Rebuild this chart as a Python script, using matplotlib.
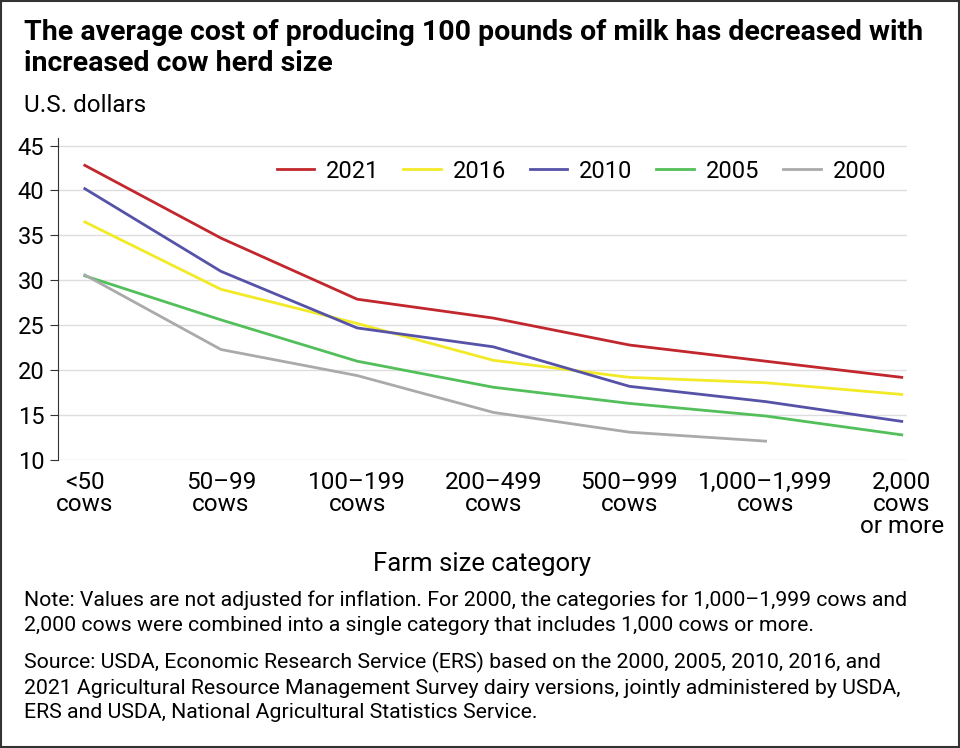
import numpy as np
import matplotlib.pyplot as plt

plt.rcParams['font.family'] = ['Roboto', 'DejaVu Sans']

categories = ['<50\ncows', '50–99\ncows', '100–199\ncows', '200–499\ncows',
              '500–999\ncows', '1,000–1,999\ncows', '2,000\ncows\nor more']
years = ['2021', '2016', '2010', '2005', '2000']
colors = ['#c1272d', '#f2ea27', '#5552a8', '#52bf5a', '#aaaaaa']
v2021 = [42.8, 34.7, 27.9, 25.8, 22.8, 21.0, 19.2]
v2016 = [36.5, 29.0, 25.2, 21.1, 19.2, 18.6, 17.3]
v2010 = [40.2, 31.0, 24.7, 22.6, 18.2, 16.5, 14.3]
v2005 = [30.5, 25.6, 21.0, 18.1, 16.3, 14.9, 12.8]
v2000 = [30.6, 22.3, 19.4, 15.3, 13.1, 12.1]
series = [v2021, v2016, v2010, v2005, v2000]

fig = plt.figure(figsize=(9.6, 7.48), dpi=100)
ax = fig.add_axes([0.06, 0.385, 0.885, 0.43])
for name, vals, c in zip(years, series, colors):
    ax.plot(range(len(vals)), vals, color=c, lw=2, label=name)

ax.set_ylim(10, 45.8)
ax.set_yticks(range(10, 50, 5))
ax.set_xlim(-0.2, 6.04)
ax.set_xticks(range(len(categories)))
ax.set_xticklabels(categories, fontsize=17.5, linespacing=0.95)
ax.tick_params(axis='y', labelsize=17, length=6, color='#333333')
ax.tick_params(axis='x', length=0, pad=8)
ax.grid(axis='y', color='#dddddd', lw=1)
ax.set_axisbelow(True)
for s in ['top', 'right', 'bottom']:
    ax.spines[s].set_visible(False)
ax.spines['left'].set_color('#333333')
ax.set_xlabel('Farm size category', fontsize=18.5, labelpad=10)

ax.legend(loc='upper right', ncol=5, frameon=False, fontsize=17,
          handlelength=1.6, columnspacing=1.0, handletextpad=0.5,
          bbox_to_anchor=(1.0, 1.0))

fig.text(0.025, 0.975, 'The average cost of producing 100 pounds of milk has decreased with\nincreased cow herd size',
         fontsize=20.5, fontweight='bold', va='top', linespacing=1.2)
fig.text(0.025, 0.875, 'U.S. dollars', fontsize=17.5, va='top')
fig.text(0.025, 0.21, 'Note: Values are not adjusted for inflation. For 2000, the categories for 1,000–1,999 cows and\n'
         '2,000 cows were combined into a single category that includes 1,000 cows or more.',
         fontsize=15.3, va='top', linespacing=1.35)
fig.text(0.025, 0.128, 'Source: USDA, Economic Research Service (ERS) based on the 2000, 2005, 2010, 2016, and\n'
         '2021 Agricultural Resource Management Survey dairy versions, jointly administered by USDA,\n'
         'ERS and USDA, National Agricultural Statistics Service.',
         fontsize=15.3, va='top', linespacing=1.35)
fig.patches.append(plt.Rectangle((0.001, 0.001), 0.998, 0.998, transform=fig.transFigure,
                                 fill=False, edgecolor='#333333', lw=1.5))

fig.savefig('out.png', dpi=100)
